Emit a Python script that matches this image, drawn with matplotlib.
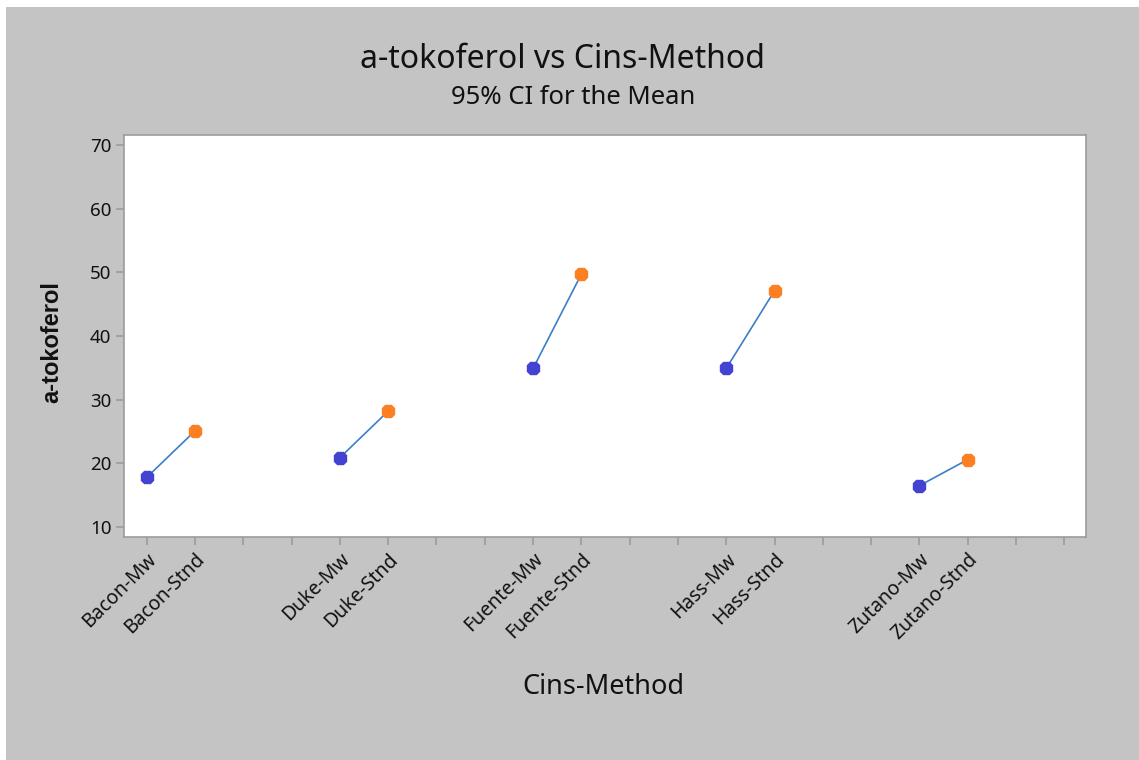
import numpy as np
import matplotlib
matplotlib.use("Agg")
from matplotlib import pyplot as plt
from matplotlib.patches import Rectangle

plt.rcParams['font.family'] = ['Noto Sans', 'DejaVu Sans']

cultivars = ['Bacon', 'Duke', 'Fuente', 'Hass', 'Zutano']
methods = ['Mw', 'Stnd']
mean_mw = [17.8, 20.9, 34.9, 34.9, 16.5]
mean_stnd = [25.1, 28.2, 49.7, 47.1, 20.6]
ci_mw = [0.4, 0.4, 0.6, 0.8, 0.6]
ci_stnd = [0.4, 0.4, 0.9, 0.6, 0.6]

y_ticks = [10, 20, 30, 40, 50, 60, 70]

W, H = 1139, 760
fig = plt.figure(figsize=(W / 100, H / 100), dpi=100, facecolor='white')
# gray panel, leaving the thin white edge on top and left
fig.patches.append(Rectangle((6 / W, 0), 1, 1 - 7 / H, transform=fig.transFigure,
                             facecolor='#c4c4c4', edgecolor='none', zorder=-10))

ax = fig.add_axes([124 / W, 1 - 537 / H, 962 / W, 402 / H])
ax.set_facecolor('white')

slot = 4
n_slots = slot * len(cultivars)
tick_labels = [''] * n_slots
for i, c in enumerate(cultivars):
    x_mw = i * slot
    x_st = i * slot + 1
    tick_labels[x_mw] = f'{c}-{methods[0]}'
    tick_labels[x_st] = f'{c}-{methods[1]}'
    ax.plot([x_mw, x_st], [mean_mw[i], mean_stnd[i]], color='#3b7fc8', lw=1.2, zorder=2)
    ax.errorbar([x_mw], [mean_mw[i]], yerr=[ci_mw[i]], fmt='none', ecolor='#3b7fc8',
                elinewidth=1, zorder=2)
    ax.errorbar([x_st], [mean_stnd[i]], yerr=[ci_stnd[i]], fmt='none', ecolor='#3b7fc8',
                elinewidth=1, zorder=2)
    ax.plot([x_mw], [mean_mw[i]], marker='8', ms=10, color='#4343d2', mec='#4343d2', zorder=3)
    ax.plot([x_st], [mean_stnd[i]], marker='8', ms=10, color='#fd7f24', mec='#fd7f24', zorder=3)

ax.set_xlim(-0.47, 19.45)
ax.set_ylim(8.45, 71.55)
ax.set_xticks(range(n_slots))
ax.set_xticklabels(tick_labels, rotation=45, ha='right', va='top',
                   rotation_mode='anchor', fontsize=14)
ax.set_yticks(y_ticks)
ax.set_yticklabels([str(v) for v in y_ticks], fontsize=13.5)

for s in ax.spines.values():
    s.set_color('#9c9c9c')
    s.set_linewidth(1.2)
ax.tick_params(axis='both', color='#9c9c9c', length=6, width=1.2, pad=3, labelcolor='#111111')

fig.text(52 / W, 1 - 342 / H, 'a-tokoferol', rotation=90, ha='center', va='center',
         fontsize=17, fontweight='bold', family=['Liberation Sans', 'DejaVu Sans'],
         color='#111111')
fig.text(603 / W, 1 - 687 / H, 'Cins-Method', ha='center', va='center',
         fontsize=19.5, color='#111111')
fig.text(562 / W, 1 - 60 / H, 'a-tokoferol vs Cins-Method', ha='center', va='center',
         fontsize=23, color='#111111')
fig.text(573 / W, 1 - 97 / H, '95% CI for the Mean', ha='center', va='center',
         fontsize=18.5, color='#111111')

fig.savefig('out.png', dpi=100, facecolor=fig.get_facecolor())
